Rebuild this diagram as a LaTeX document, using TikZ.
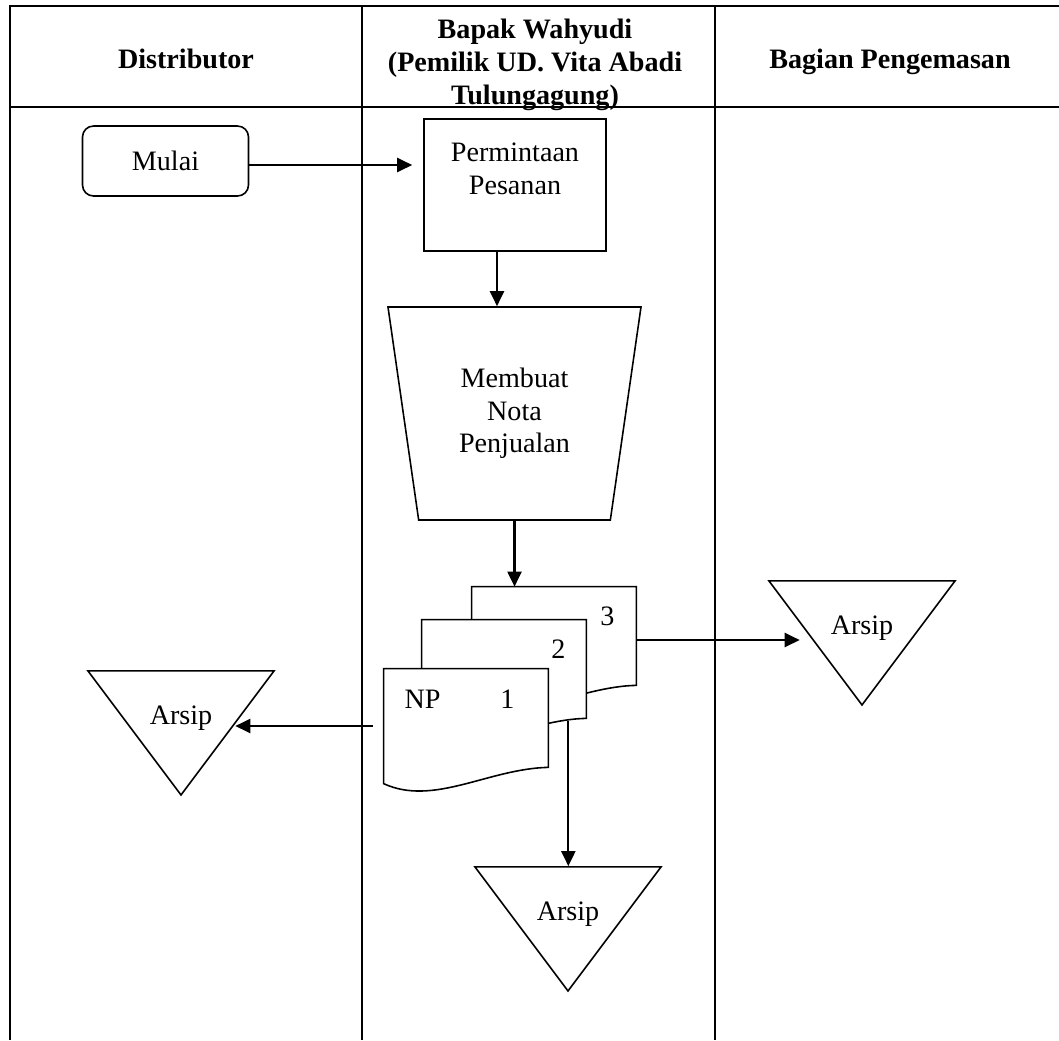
\documentclass[tikz,border=0pt]{standalone}
\usepackage{fontspec}
\setmainfont{Liberation Serif}
\usetikzlibrary{shapes.geometric,arrows.meta,positioning}

\begin{document}
\begin{tikzpicture}[font=\fontsize{16}{18.5}\selectfont, tbl/.style={line width=1.1pt}, head/.style={font=\fontsize{16}{18.7}\selectfont\bfseries, align=center}, proc/.style={draw, line width=0.9pt, align=center}, arsip/.style={draw, line width=0.9pt, fill=white, isosceles triangle, isosceles triangle stretches, shape border rotate=-90, minimum width=3.72cm, minimum height=2.48cm, inner sep=0pt, text height=23pt}, docbox/.style={minimum width=3.28cm, minimum height=1.96cm, inner sep=0pt}, docline/.style={draw, line width=0.9pt, fill=white}, arr/.style={-{Triangle[length=3mm, width=2.8mm]}, line width=1.2pt}]
\useasboundingbox (0,0) rectangle (21.18,-20.8);
\draw[tbl] (21.18,-0.12) -- (0.2,-0.12) -- (0.2,-20.8); \draw[tbl] (0.2,-2.14) -- (21.18,-2.14); \draw[tbl] (7.24,-0.12) -- (7.24,-20.8); \draw[tbl] (14.3,-0.12) -- (14.3,-20.8);
\node[head, anchor=base] (hdist) at (3.72,-1.37) {Distributor}; \node[head] (hpemilik) at (10.7,-1.3) {Bapak Wahyudi\\(Pemilik UD. Vita Abadi\\Tulungagung)}; \node[head, anchor=base] (hkemas) at (17.8,-1.37) {Bagian Pengemasan};
\node[proc, rounded corners=0.22cm, minimum width=3.32cm, minimum height=1.4cm] (mulai) at (3.31,-3.22) {Mulai}; \node[proc, minimum width=3.64cm, minimum height=2.64cm] (pesan) at (10.3,-3.7) {Permintaan\\Pesanan\\~};
\node[proc, trapezium, shape border rotate=180, trapezium left angle=73.3, trapezium right angle=73.3, trapezium stretches body, minimum width=5.06cm, minimum height=4.26cm] (nota) at (10.29,-8.27) {Membuat\\Nota\\Penjualan};
\node[docbox] (doc3) at (11.08,-12.72) {}; \path[docline] (doc3.north west) -- ([yshift=-2.3cm]doc3.north west) .. controls ([xshift=1cm,yshift=-2.76cm]doc3.north west) and ([xshift=2.1cm,yshift=-2cm]doc3.north west) .. (doc3.south east) -- (doc3.north east) -- cycle; \node (n3) at ([xshift=-0.58cm,yshift=-0.6cm]doc3.north east) {3};
\node[docbox] (doc2) at (10.08,-13.38) {}; \path[docline] (doc2.north west) -- ([yshift=-2.3cm]doc2.north west) .. controls ([xshift=1cm,yshift=-2.76cm]doc2.north west) and ([xshift=2.1cm,yshift=-2cm]doc2.north west) .. (doc2.south east) -- (doc2.north east) -- cycle; \node (n2) at ([xshift=-0.56cm,yshift=-0.6cm]doc2.north east) {2};
\node[docbox] (doc1) at (9.32,-14.36) {}; \path[docline] (doc1.north west) -- ([yshift=-2.3cm]doc1.north west) .. controls ([xshift=1cm,yshift=-2.76cm]doc1.north west) and ([xshift=2.1cm,yshift=-2cm]doc1.north west) .. (doc1.south east) -- (doc1.north east) -- cycle; \node (np) at ([xshift=0.78cm,yshift=-0.62cm]doc1.north west) {NP}; \node (n1) at ([xshift=-0.82cm,yshift=-0.62cm]doc1.north east) {1};
\node[arsip, anchor=apex] (arsipL) at (3.62,-15.94) {Arsip}; \node[arsip, anchor=apex] (arsipR) at (17.24,-14.14) {Arsip}; \node[arsip, anchor=apex] (arsipB) at (11.36,-19.86) {Arsip};
\draw[arr] ([yshift=-0.08cm]mulai.east) -- ([xshift=-0.22cm,yshift=-0.08cm]mulai.east -| pesan.west); \draw[arr] ([xshift=-0.36cm]pesan.south) -- ([xshift=-0.36cm]pesan.south |- nota.north); \draw[arr] (nota.south) -- (nota.south |- doc3.north);
\draw[arr, shorten >=0.3cm] ([yshift=-0.08cm]doc3.east) -- ([yshift=-0.08cm]doc3.east -| arsipR.right side); \draw[arr, shorten >=0.14cm] ([xshift=-0.22cm,yshift=-0.16cm]doc1.west) -- ([yshift=-0.16cm]doc1.west -| arsipL.left side); \draw[arr] ([xshift=-0.36cm,yshift=-0.05cm]doc2.south east) -- ([xshift=-0.36cm]doc2.south east |- arsipB.north);
\end{tikzpicture}
\end{document}
